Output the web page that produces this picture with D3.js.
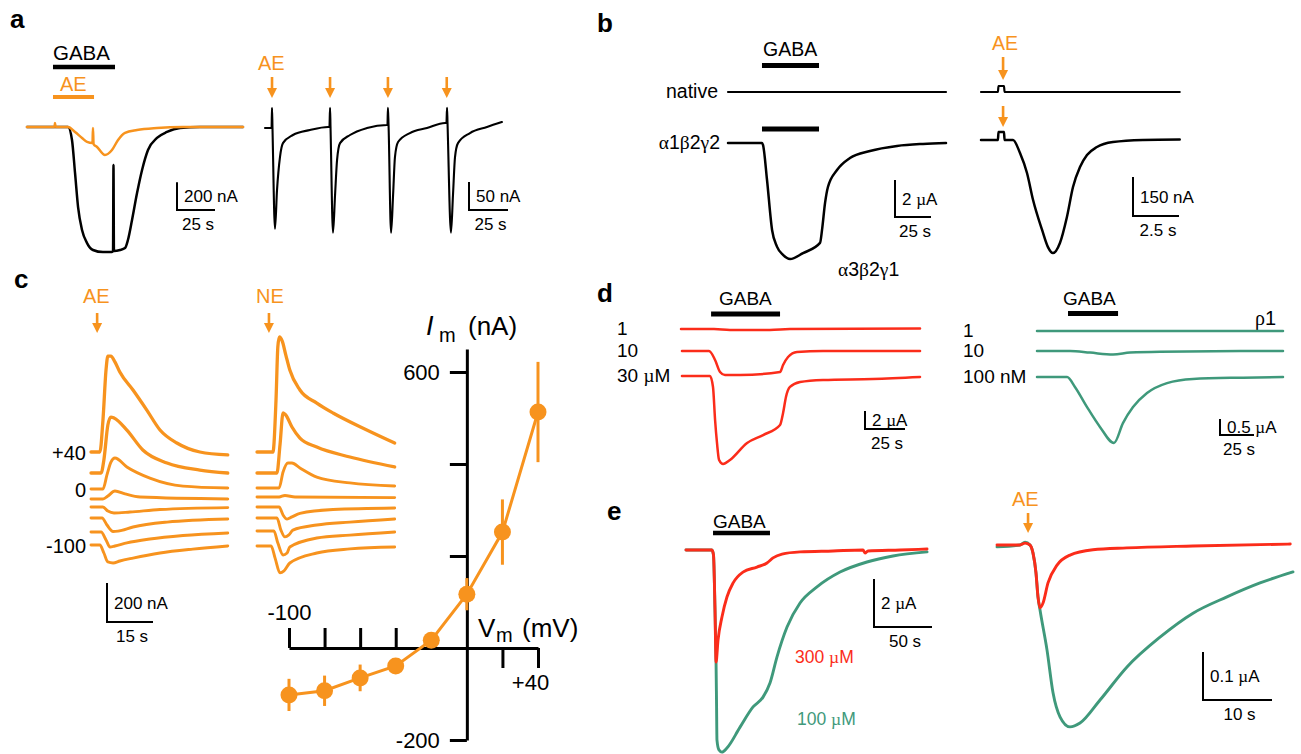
<!DOCTYPE html>
<html>
<head>
<meta charset="utf-8">
<script src="https://cdn.jsdelivr.net/npm/d3@7"></script>
<style>
  body { margin: 0; background: #fff; }
  text { font-family: "Liberation Sans", Arial, sans-serif; }
</style>
</head>
<body>
<script>
// ---- data: [time (s), current] pairs ----

// a: GABA (nA) with / without AE, and repeated AE pulses (nA)
var aGabaTrace = [[0,0],[27,0],[29.6,-94],[31.6,-332],[33.6,-578],[36.2,-744],[39.5,-838],[43.4,-888],[50,-903],[55.9,-903],[56.6,-895],[56.9,-274],[57.2,-895],[61.2,-888],[64.5,-874],[66.4,-816],[69.1,-671],[72.4,-477],[75.7,-310],[79.6,-166],[85.5,-79],[92.1,-36],[100.7,-7],[113.8,0],[142.1,0]];
var aAeTrace = [[0,0],[18.1,0],[18.4,29],[18.8,0],[27,0],[31.6,-36],[36.2,-79],[39.5,-108],[43.1,-116],[43.4,-7],[43.8,-123],[46.1,-144],[51.3,-202],[55.9,-166],[59.9,-94],[64.5,-43],[72.4,-22],[85.5,-7],[102.6,0],[142.1,0]];
var aPulseTrace = [[0,0],[4.2,0],[4.5,36],[4.8,0],[6.4,-180],[7.7,-111],[9.6,-52],[11.5,-27],[17.9,-12.5],[28.8,-3.6],[40.4,1.8],[41.3,1.8],[41.7,36],[42,1.8],[43.6,-187],[44.9,-120],[46.2,-57],[48.1,-27],[54.5,-12.5],[65.4,0],[78.2,5.4],[78.5,5.4],[78.8,36],[79.2,5.4],[80.8,-187],[82.1,-120],[83.3,-52],[85.3,-25],[92.9,-9],[103.8,0],[115.4,9],[116.3,9],[116.7,36],[117,9],[119.2,-187],[120.5,-120],[121.8,-52],[123.7,-27],[131.4,-9],[142.3,1.8],[151.9,10.7]];
var aGabaBar = [17.1, 57.9];
var aAeBar = [17.1, 44.1];
var aArrowTimes = [4.5, 41.7, 78.8, 116.5];

// b: native vs a1b2g2, GABA (uA) and AE (nA)
var bNativeGaba = [[0,0],[40,0],[151.4,0]];
var bAlphaGaba = [[0,0],[23.6,0],[24.3,-0.1],[27.1,-2.0],[30.6,-4.7],[34,-5.6],[38.2,-6.05],[43.1,-6.27],[52.1,-5.95],[63.9,-5.4],[65.3,-4.7],[67.4,-3.24],[69.4,-2.38],[75.7,-1.46],[84.7,-0.81],[98.6,-0.43],[117.4,-0.16],[135.4,-0.05],[151.4,0]];
var bNativeAe = [[0,0],[0.92,0],[0.95,23],[1.25,23],[1.28,0],[10.8,0]];
var bAlphaAe = [[0,0],[0.92,0],[0.95,31],[1.25,31],[1.28,0],[1.74,0],[2.12,-50],[2.5,-127],[2.83,-231],[3.32,-346],[3.64,-412],[3.91,-435],[4.29,-396],[4.67,-296],[5.0,-181],[5.38,-104],[5.76,-58],[6.3,-27],[7.17,-8],[8.8,0],[10.8,2]];
var bGabaBar = [23.6, 63.2];
var bArrowTime = 1.2;
var bRowLabels = ["native", "\u03b11\u03b22\u03b32"];

// c: currents (nA) at holding potentials +40 ... -100 mV
var cVoltLabels = ["+40", "0", "-100"];
var cVoltLabelRows = [0, 2, 7];
var cAeTraces = [
  [[0,0],[2.9,0],[3.9,164],[4.9,421],[5.5,492],[6.5,492],[7.8,462],[9.4,410],[13.7,318],[18.2,215],[22.5,113],[28,46],[35.5,0],[44.6,-15]],
  [[0,0],[3.3,0],[4.2,67],[5.5,246],[6.5,287],[7.5,282],[11.7,220],[16.9,118],[24.8,51],[35.5,15],[44.6,0]],
  [[0,0],[3.9,0],[5.2,72],[6.5,138],[7.8,159],[11.7,113],[19.2,56],[30,15],[44.6,5]],
  [[0,0],[3.9,0],[5.5,15],[7.8,41],[11.1,26],[16,10],[44.6,0]],
  [[0,0],[3.9,0],[5.5,-21],[7.5,-31],[12.7,-26],[22.5,-13],[44.6,-3]],
  [[0,0],[3.6,0],[5.2,-36],[7.2,-69],[8.8,-67],[13.7,-46],[24.8,-21],[44.6,-5]],
  [[0,0],[3.3,0],[4.9,-41],[6.2,-77],[7.8,-72],[11.7,-56],[19.2,-36],[30,-18],[44.6,-5]],
  [[0,0],[2.9,0],[4.2,-41],[5.5,-87],[7.2,-92],[9.4,-82],[13.7,-67],[22.5,-41],[33.2,-21],[44.6,-5]]
];
var cNeTraces = [
  [[0,0],[5.2,0],[6.2,267],[6.8,540],[7.3,590],[8.2,570],[9.4,497],[10.7,420],[14,318],[19.5,251],[24.8,200],[35.8,113],[44.9,46]],
  [[0,0],[6.5,0],[7.5,144],[8.5,308],[9.4,297],[11.4,236],[14,179],[19.5,133],[30.3,82],[44.9,31]],
  [[0,0],[7.2,0],[8.5,82],[10.1,128],[11.4,128],[14,103],[19.5,56],[30.3,26],[44.9,10]],
  [[0,0],[7.2,0],[9.1,8],[12.4,0],[44.9,-3]],
  [[0,0],[7.2,0],[8.5,-41],[9.8,-62],[11.4,-51],[14,-33],[24.8,-13],[44.9,-5]],
  [[0,0],[6.5,0],[7.8,-62],[9.1,-97],[10.4,-87],[11.7,-62],[19.5,-36],[30.3,-21],[44.9,-5]],
  [[0,0],[5.5,0],[6.8,-62],[8.5,-123],[9.8,-113],[10.7,-82],[19.5,-36],[30.3,-21],[44.9,-5]],
  [[0,0],[4.6,0],[5.9,-62],[7.5,-138],[8.8,-128],[10.7,-87],[19.5,-36],[30.3,-15],[44.9,-5]]
];
var cArrowTime = 2;
var cNeArrowTime = 3.9;

// c: I-V relation
var ivVoltage = [-100, -80, -60, -40, -20, 0, 20, 40];
var ivCurrent = [-102, -93, -65, -39, 17, 117, 252, 513];
var ivError = [35, 33, 29, 10, 8, 35, 71, 109];
var ivYTicks = [600, 400, 200, -200];
var ivXTicksUp = [-100, -80, -60, -40];
var ivXTicksDown = [20, 40];

// d: a3b2g1 (uA) and rho1 (uA) at three GABA concentrations
var dAlphaLabels = ["1", "10", "30 \u00b5M"];
var dAlphaTraces = [
  [[0,0],[20.6,0],[30.6,-0.1],[55.6,-0.1],[68.1,0],[149.4,0.05]],
  [[0.6,0],[17.5,0],[21.3,-1.0],[24.4,-2.33],[27.5,-2.67],[36.9,-2.67],[61.9,-2.33],[63.8,-1.56],[66.9,-0.67],[72.5,-0.11],[88.8,0],[149.4,0]],
  [[0.6,0],[18.1,0],[20,-1.22],[21.3,-4.89],[22.5,-7.44],[23.8,-9.33],[26.3,-9.78],[30.6,-9.33],[41.3,-7.44],[51.3,-6.56],[61.9,-5.44],[63.8,-4.11],[65.6,-2.33],[68.1,-1.22],[74.4,-0.67],[88.8,-0.44],[120,-0.33],[149.4,-0.11]]
];
var dRhoLabels = ["1", "10", "100 nM"];
var dRhoTraces = [
  [[0,0],[180.9,0]],
  [[0,0],[24.3,0],[39,-0.05],[55.9,-0.11],[68.4,-0.05],[90.4,-0.02],[180.9,0]],
  [[0,0],[22.1,0],[27.9,-0.31],[36.8,-0.94],[46.3,-1.56],[56.6,-2.06],[63.2,-1.44],[70.6,-0.94],[80.9,-0.5],[95.6,-0.19],[114.7,-0.06],[151.5,-0.02],[180.9,0]]
];
var dAlphaBar = [18.8, 61.9];
var dRhoBar = [22.8, 59.6];

// e: GABA 300 uM vs 100 uM (uA) and AE (uA)
var eRed300 = [[0,0],[22.4,0],[23.7,-0.21],[25,-2.5],[25.9,-4.67],[27.6,-3.75],[31,-2.79],[35.3,-1.96],[40.5,-1.38],[49.1,-0.92],[61.2,-0.71],[69.8,-0.54],[75,-0.33],[82.8,-0.17],[98.3,-0.08],[126.7,-0.04],[152.6,0],[154.3,-0.13],[156.9,-0.04],[184.5,0],[207.8,0.04]];
var eTeal100 = [[0,0],[22.4,0],[23.7,-0.21],[25,-2.5],[25.9,-4.67],[26.3,-6.25],[26.7,-7.92],[28.4,-8.33],[31,-8.42],[35.3,-8.25],[46.6,-7.38],[57.8,-6.54],[66.4,-6.13],[72.4,-5.54],[78.4,-4.46],[87.1,-3.21],[98.3,-2.21],[112.9,-1.54],[132.8,-0.92],[156,-0.5],[178.4,-0.25],[207.8,-0.08]];
var eRedAe = [[0,0],[3.33,0],[4.06,0.004],[4.78,0],[5.22,-0.017],[5.65,-0.058],[5.94,-0.108],[6.23,-0.131],[6.67,-0.121],[7.39,-0.079],[8.7,-0.042],[10.58,-0.021],[13.9,-0.01],[18.8,-0.006],[28.4,-0.002],[42.5,0.002]];
var eTealAe = [[0,-0.004],[3.33,0],[4.06,0.006],[4.78,0],[5.22,-0.017],[5.65,-0.058],[5.94,-0.108],[6.23,-0.135],[7.25,-0.219],[8.12,-0.308],[9.13,-0.358],[10.58,-0.379],[12.03,-0.371],[14.93,-0.323],[18.84,-0.254],[23.62,-0.192],[28.41,-0.142],[33.33,-0.108],[38.12,-0.079],[42.9,-0.056]];
var eGabaBar = [23.3, 72.4];
var eArrowTime = 4.5;

// ---- style ----
var W = 1301, H = 754;
var ORANGE = "#f7931e", RED = "#fb2c1a", TEAL = "#3f997b", BLACK = "#000";

var svg = d3.select("body").append("svg")
  .attr("width", W).attr("height", H);

// y scale for one trace row: value 0 sits on the row's baseline
function rowScale(base, pxPerUnit) {
  return d3.scaleLinear().domain([0, 1]).range([base, base - pxPerUnit]);
}

function drawTrace(data, xs, ys, color, width) {
  svg.append("path")
    .datum(data)
    .attr("d", d3.line()
      .x(function(d) { return xs(d[0]); })
      .y(function(d) { return ys(d[1]); })
      .curve(d3.curveMonotoneX))
    .attr("fill", "none")
    .attr("stroke", color)
    .attr("stroke-width", width)
    .attr("stroke-linejoin", "round")
    .attr("stroke-linecap", "round");
}

// text, with greek letters set in a serif face
function label(x, y, str, size, color, anchor, weight) {
  var t = svg.append("text")
    .attr("x", x).attr("y", y)
    .attr("font-size", size)
    .attr("fill", color || BLACK)
    .attr("text-anchor", anchor || "start")
    .attr("font-weight", weight || "normal");
  str.split(/([\u03b1-\u03c9\u00b5])/).forEach(function(s) {
    if (!s) return;
    var sp = t.append("tspan").text(s);
    if (/[\u03b1-\u03c9\u00b5]/.test(s)) sp.attr("font-family", "Liberation Serif, serif");
  });
  return t;
}

function bar(xs, range, y, color, width) {
  svg.append("line")
    .attr("x1", xs(range[0])).attr("x2", xs(range[1]))
    .attr("y1", y).attr("y2", y)
    .attr("stroke", color).attr("stroke-width", width);
}

function arrow(x, y1, y2, color) {
  svg.append("line")
    .attr("x1", x).attr("x2", x).attr("y1", y1).attr("y2", y2 - 8)
    .attr("stroke", color).attr("stroke-width", 2.6);
  svg.append("path")
    .attr("d", "M" + (x - 5) + "," + (y2 - 10) + "L" + (x + 5) + "," + (y2 - 10) + "L" + x + "," + y2 + "Z")
    .attr("fill", color);
}

// L-shaped scale bar; corner at (x, y)
function scaleBar(x, y, xs, ys, tVal, iVal, tText, iText) {
  var dx = xs(tVal) - xs(0);
  var dy = Math.abs(ys(iVal) - ys(0));
  svg.append("path")
    .attr("d", "M" + x + "," + (y - dy) + "V" + y + "H" + (x + dx))
    .attr("fill", "none").attr("stroke", BLACK).attr("stroke-width", 2);
  label(x + 7, y - dy / 2 + 6, iText, 17);
  label(x + dx / 2 + 2, y + 20, tText, 17, BLACK, "middle");
}

// ---- panel letters ----
label(10, 28, "a", 26, BLACK, "start", "bold");
label(597, 32, "b", 26, BLACK, "start", "bold");
label(14, 288, "c", 26, BLACK, "start", "bold");
label(597, 302, "d", 26, BLACK, "start", "bold");
label(607, 520, "e", 26, BLACK, "start", "bold");

// ---- a ----
var xA1 = d3.scaleLinear().domain([0, 25]).range([27, 65]);
var yA1 = rowScale(127, 0.1385);
label(53, 60, "GABA", 20.5);
bar(xA1, aGabaBar, 67, BLACK, 4.5);
label(60, 91, "AE", 20, ORANGE);
bar(xA1, aAeBar, 97, ORANGE, 4);
drawTrace(aGabaTrace, xA1, yA1, BLACK, 2.5);
drawTrace(aAeTrace, xA1, yA1, ORANGE, 2.5);
scaleBar(177, 210, xA1, yA1, 25, 200, "25 s", "200 nA");

var xA2 = d3.scaleLinear().domain([0, 25]).range([265, 304]);
var yA2 = rowScale(128, 0.56);
drawTrace(aPulseTrace, xA2, yA2, BLACK, 2.1);
label(258, 70, "AE", 20, ORANGE);
aArrowTimes.forEach(function(t) { arrow(xA2(t), 77, 98, ORANGE); });
scaleBar(469, 210, xA2, yA2, 25, 50, "25 s", "50 nA");

// ---- b ----
var xB1 = d3.scaleLinear().domain([0, 25]).range([728, 764]);
var bLeftRows = [rowScale(92, 18.5), rowScale(143, 18.5)];
label(763, 56, "GABA", 19.5);
bar(xB1, bGabaBar, 65.5, BLACK, 5);
bar(xB1, bGabaBar, 129, BLACK, 5);
label(718, 98, bRowLabels[0], 19.5, BLACK, "end");
label(720, 149, bRowLabels[1], 19.5, BLACK, "end");
drawTrace(bNativeGaba, xB1, bLeftRows[0], BLACK, 2.2);
drawTrace(bAlphaGaba, xB1, bLeftRows[1], BLACK, 2.5);
scaleBar(895, 217, xB1, bLeftRows[1], 25, 2, "25 s", "2 \u00b5A");

var xB2 = d3.scaleLinear().domain([0, 2.5]).range([981, 1027]);
var bRightRows = [rowScale(92, 0.26), rowScale(140, 0.26)];
label(992, 50, "AE", 19.5, ORANGE);
arrow(xB2(bArrowTime), 57, 80, ORANGE);
arrow(xB2(bArrowTime), 106, 127, ORANGE);
drawTrace(bNativeAe, xB2, bRightRows[0], BLACK, 2.2);
drawTrace(bAlphaAe, xB2, bRightRows[1], BLACK, 2.5);
scaleBar(1133, 216, xB2, bRightRows[1], 2.5, 150, "2.5 s", "150 nA");
label(838, 276, "\u03b13\u03b22\u03b31", 19.5);

// ---- c: traces ----
var xC1 = d3.scaleLinear().domain([0, 15]).range([91, 137]);
var xC2 = d3.scaleLinear().domain([0, 15]).range([257, 303]);
var cAeBase = [452, 473, 489, 499, 507, 518, 532, 545];
var cNeBase = [452, 473, 488, 497, 507, 518, 531, 546];
label(83, 303, "AE", 20, ORANGE);
arrow(xC1(cArrowTime), 313, 333, ORANGE);
label(256, 303, "NE", 20, ORANGE);
arrow(xC2(cNeArrowTime), 313, 333, ORANGE);
cAeTraces.forEach(function(tr, i) {
  drawTrace(tr, xC1, rowScale(cAeBase[i], 0.195), ORANGE, i < 2 ? 3.3 : 2.9);
});
cNeTraces.forEach(function(tr, i) {
  drawTrace(tr, xC2, rowScale(cNeBase[i], 0.195), ORANGE, i < 2 ? 3.3 : 2.9);
});
cVoltLabels.forEach(function(s, i) {
  label(86, cAeBase[cVoltLabelRows[i]] + 8, s, 20, BLACK, "end");
});
scaleBar(107, 622, xC1, rowScale(622, 0.195), 15, 200, "15 s", "200 nA");

// ---- c: I-V plot ----
var xIV = d3.scaleLinear().domain([-100, 40]).range([289, 538]);
var yIV = d3.scaleLinear().domain([-200, 650]).range([740, 349]);

var gy = svg.append("g").attr("transform", "translate(" + xIV(0) + ",0)")
  .call(d3.axisLeft(yIV).tickValues(ivYTicks).tickSize(17).tickSizeOuter(0).tickPadding(10)
    .tickFormat(function(d) { return (d === 600 || d === -200) ? d : ""; }));
var gx = svg.append("g").attr("transform", "translate(0," + yIV(0) + ")")
  .call(d3.axisTop(xIV).tickValues(ivXTicksUp).tickSize(20).tickSizeOuter(0).tickPadding(8)
    .tickFormat(function(d) { return d === -100 ? "-100" : ""; }));
var gx2 = svg.append("g").attr("transform", "translate(0," + yIV(0) + ")")
  .call(d3.axisBottom(xIV).tickValues(ivXTicksDown).tickSize(20).tickPadding(6)
    .tickFormat(function(d) { return d === 40 ? "+40" : ""; }));
gx2.select(".domain").remove();
gx2.selectAll(".tick text").attr("dx", -8);
[gy, gx, gx2].forEach(function(g) {
  g.selectAll(".domain, .tick line").attr("stroke", BLACK).attr("stroke-width", 3);
  g.selectAll(".tick text").attr("font-size", 22).attr("fill", BLACK)
    .attr("font-family", "Liberation Sans, Arial, sans-serif");
});

svg.append("text").attr("x", 426).attr("y", 335).attr("font-size", 27)
  .attr("font-family", "Liberation Serif, serif").attr("font-style", "italic").text("I");
label(439, 342, "m", 20);
label(468, 335, "(nA)", 26);
label(478, 637, "V", 26);
label(496, 642, "m", 20);
label(522, 637, "(mV)", 26);

var ivData = ivVoltage.map(function(v, i) { return {v: v, i: ivCurrent[i], e: ivError[i]}; });
svg.append("g").selectAll("line.err")
  .data(ivData).enter().append("line")
  .attr("class", "err")
  .attr("x1", function(d) { return xIV(d.v); })
  .attr("x2", function(d) { return xIV(d.v); })
  .attr("y1", function(d) { return yIV(d.i - d.e); })
  .attr("y2", function(d) { return yIV(d.i + d.e); })
  .attr("stroke", ORANGE).attr("stroke-width", 3);
svg.append("path").datum(ivData)
  .attr("d", d3.line().x(function(d) { return xIV(d.v); }).y(function(d) { return yIV(d.i); }))
  .attr("fill", "none").attr("stroke", ORANGE).attr("stroke-width", 3);
svg.append("g").selectAll("circle")
  .data(ivData).enter().append("circle")
  .attr("cx", function(d) { return xIV(d.v); })
  .attr("cy", function(d) { return yIV(d.i); })
  .attr("r", 8.5)
  .attr("fill", ORANGE);

// ---- d ----
var xD1 = d3.scaleLinear().domain([0, 25]).range([681, 721]);
var dLeftBase = [329, 351, 376];
label(719, 305, "GABA", 19);
bar(xD1, dAlphaBar, 314, BLACK, 5);
dAlphaTraces.forEach(function(tr, i) {
  drawTrace(tr, xD1, rowScale(dLeftBase[i], 9), RED, 2.5);
  label(617, dLeftBase[i] + 6, dAlphaLabels[i], 19);
});
scaleBar(865, 429, xD1, rowScale(429, 9), 25, 2, "25 s", "2 \u00b5A");

var xD2 = d3.scaleLinear().domain([0, 25]).range([1037, 1071]);
var dRightBase = [331, 351, 377];
label(1063, 305, "GABA", 19);
bar(xD2, dRhoBar, 313.5, BLACK, 5);
label(1255, 325, "\u03c11", 20);
dRhoTraces.forEach(function(tr, i) {
  drawTrace(tr, xD2, rowScale(dRightBase[i], 32), TEAL, 2.5);
  label(963, dRightBase[i] + 6, dRhoLabels[i], 19);
});
scaleBar(1220, 435, xD2, rowScale(435, 32), 25, 0.5, "25 s", "0.5 \u00b5A");

// ---- e ----
var xE1 = d3.scaleLinear().domain([0, 50]).range([686, 744]);
var yE1 = rowScale(550, 24);
label(713, 528, "GABA", 19);
bar(xE1, eGabaBar, 533, BLACK, 4.5);
drawTrace(eTeal100, xE1, yE1, TEAL, 2.9);
drawTrace(eRed300, xE1, yE1, RED, 2.9);
label(795, 663, "300 \u00b5M", 17.5, RED);
label(797, 725, "100 \u00b5M", 17.5, TEAL);
scaleBar(874, 627, xE1, yE1, 50, 2, "50 s", "2 \u00b5A");

var xE2 = d3.scaleLinear().domain([0, 10]).range([997, 1066]);
var yE2 = rowScale(545, 480);
label(1012, 506, "AE", 20, ORANGE);
arrow(xE2(eArrowTime), 513, 533, ORANGE);
drawTrace(eTealAe, xE2, yE2, TEAL, 2.9);
drawTrace(eRedAe, xE2, yE2, RED, 2.9);
scaleBar(1203, 700, xE2, yE2, 10, 0.1, "10 s", "0.1 \u00b5A");
</script>
</body>
</html>
